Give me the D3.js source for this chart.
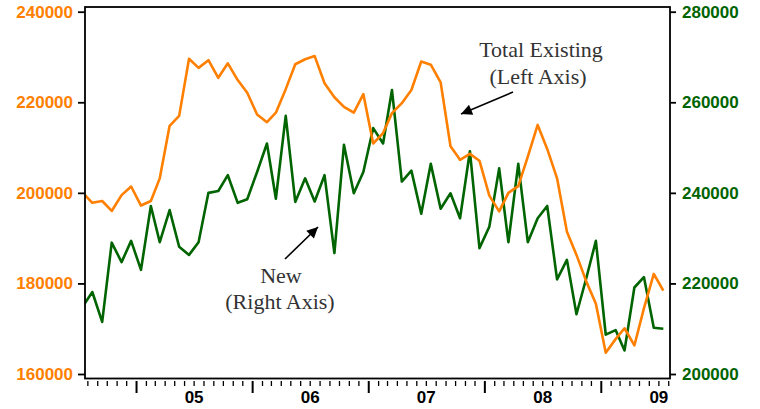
<!DOCTYPE html>
<html>
<head>
<meta charset="utf-8">
<script src="https://cdn.jsdelivr.net/npm/d3@7"></script>
<style>
  body { margin: 0; background: #fff; }
</style>
</head>
<body>
<svg id="chart" width="760" height="409"></svg>
<script>
// monthly values, Jul 2004 .. Jul 2009 (first month sits behind the left frame)
var totalExisting = [
  200100, 197800, 198200, 196000, 199500, 201400,
  197200, 198200, 203200, 214800, 217000, 229600, 227600, 229300, 225400, 228600, 224900, 222100,
  217300, 215600, 217700, 222900, 228400, 229500, 230200, 224200, 221100, 219000, 217700, 221800,
  210900, 213200, 217600, 219800, 222700, 229000, 228300, 224400, 210300, 207300, 208600, 207100,
  199400, 195900, 200000, 201500, 208000, 215000, 209700, 203200, 191400, 186300, 180400, 175500,
  164700, 167700, 170100, 166300, 174500, 182100, 178400
]
var newHomes = [
  214800, 218100, 211500, 229000, 224700, 229400,
  223000, 237100, 229100, 236200, 228100, 226300, 229100, 240000, 240400, 243900, 237800, 238600,
  244600, 250900, 238700, 257000, 238000, 243200, 238100, 243900, 226700, 250600, 239900, 244600,
  254300, 250900, 262700, 242500, 244900, 235400, 246400, 236500, 239900, 234400, 249200, 227800,
  232500, 245400, 229100, 246400, 229100, 234400, 237100, 220900, 225200, 213200, 221200, 229400,
  208700, 209700, 205200, 219100, 221400, 210200, 210000
]
var leftTicks = [160000, 180000, 200000, 220000, 240000]
var rightTicks = [200000, 220000, 240000, 260000, 280000]
var years = [2005, 2006, 2007, 2008, 2009]
var yearLabels = ["05", "06", "07", "08", "09"]

var orange = "#ff8000", green = "#006400"
var months = d3.timeMonth.range(new Date(2004, 6, 1), new Date(2009, 7, 1))
  .map(d => new Date(d.getFullYear(), d.getMonth(), 15))

var svg = d3.select("#chart")
var frame = { left: 85, right: 670, top: 7, bottom: 378.5 }

var x = d3.scaleTime().domain([new Date(2004, 6, 23), new Date(2009, 7, 5)]).range([frame.left, frame.right])
var yL = d3.scaleLinear().domain([160000, 240000]).range([374, 11.7])
var yR = d3.scaleLinear().domain([200000, 280000]).range([374, 11.7])

svg.append("clipPath").attr("id", "plotclip").append("rect")
  .attr("x", frame.left).attr("y", frame.top).attr("width", frame.right - frame.left).attr("height", frame.bottom - frame.top)

//----------------------------------------------------------- lines
var g = svg.append("g").attr("clip-path", "url(#plotclip)")
g.append("path").datum(newHomes)
  .attr("d", d3.line().x((d, i) => x(months[i])).y(d => yR(d)))
  .attr("fill", "none").attr("stroke", green).attr("stroke-width", 2.6).attr("stroke-linejoin", "round")
g.append("path").datum(totalExisting)
  .attr("d", d3.line().x((d, i) => x(months[i])).y(d => yL(d)))
  .attr("fill", "none").attr("stroke", orange).attr("stroke-width", 2.6).attr("stroke-linejoin", "round")

svg.append("rect").attr("x", frame.left).attr("y", frame.top)
  .attr("width", frame.right - frame.left).attr("height", frame.bottom - frame.top)
  .attr("fill", "none").attr("stroke", "#000").attr("stroke-width", 1.8)

//----------------------------------------------------------- y axes
var left = svg.append("g").attr("transform", "translate(" + frame.left + ",0)")
  .call(d3.axisLeft(yL).tickValues(leftTicks).tickSize(7).tickPadding(5).tickFormat(d3.format("d")))
var right = svg.append("g").attr("transform", "translate(" + frame.right + ",0)")
  .call(d3.axisRight(yR).tickValues(rightTicks).tickSize(6).tickPadding(6).tickFormat(d3.format("d")))
left.select(".domain").remove()
right.select(".domain").remove()
left.selectAll("line").attr("stroke", "#000").attr("stroke-width", 1.8)
right.selectAll("line").attr("stroke", "#000").attr("stroke-width", 1.8)
left.selectAll("text").attr("fill", orange).attr("font-family", "Liberation Sans, Arial, sans-serif").attr("font-weight", "bold").attr("font-size", 17)
right.selectAll("text").attr("fill", green).attr("font-family", "Liberation Sans, Arial, sans-serif").attr("font-weight", "bold").attr("font-size", 17)

//----------------------------------------------------------- x axis
var xAxis = svg.append("g").attr("transform", "translate(0," + (frame.bottom + 2.5) + ")")
var monthTicks = d3.timeMonth.range(new Date(2004, 7, 1), new Date(2009, 7, 2))
xAxis.selectAll("line").data(monthTicks).join("line")
  .attr("x1", d => x(d)).attr("x2", d => x(d)).attr("y1", 0)
  .attr("y2", d => d.getMonth() == 0 ? 12 : 5)
  .attr("stroke", "#000").attr("stroke-width", d => d.getMonth() == 0 ? 2 : 1.3)
xAxis.selectAll("text").data(years).join("text")
  .attr("x", d => x(new Date(d, 6, 1))).attr("y", 22)
  .attr("text-anchor", "middle").attr("font-family", "Liberation Sans, Arial, sans-serif")
  .attr("font-weight", "bold").attr("font-size", 17).attr("fill", "#000")
  .text((d, i) => yearLabels[i])

//----------------------------------------------------------- annotations
svg.append("defs").append("marker").attr("id", "head").attr("viewBox", "0 0 10 10")
  .attr("refX", 10).attr("refY", 5).attr("markerWidth", 14).attr("markerHeight", 11)
  .attr("markerUnits", "userSpaceOnUse").attr("orient", "auto")
  .append("path").attr("d", "M0,0L10,5L0,10Z").attr("fill", "#000")

var notes = svg.append("g").attr("font-family", "Liberation Serif, Times New Roman, serif")
  .attr("font-size", 22).attr("fill", "#333").attr("text-anchor", "middle")
notes.append("text").attr("x", 541).attr("y", 57).text("Total Existing")
notes.append("text").attr("x", 538).attr("y", 84).text("(Left Axis)")
notes.append("text").attr("x", 281).attr("y", 283).text("New")
notes.append("text").attr("x", 280).attr("y", 309).text("(Right Axis)")

svg.append("line").attr("x1", 513).attr("y1", 92).attr("x2", 461).attr("y2", 114)
  .attr("stroke", "#000").attr("stroke-width", 1.6).attr("marker-end", "url(#head)")
svg.append("line").attr("x1", 285).attr("y1", 259).attr("x2", 318).attr("y2", 227)
  .attr("stroke", "#000").attr("stroke-width", 1.6).attr("marker-end", "url(#head)")
</script>
</body>
</html>
